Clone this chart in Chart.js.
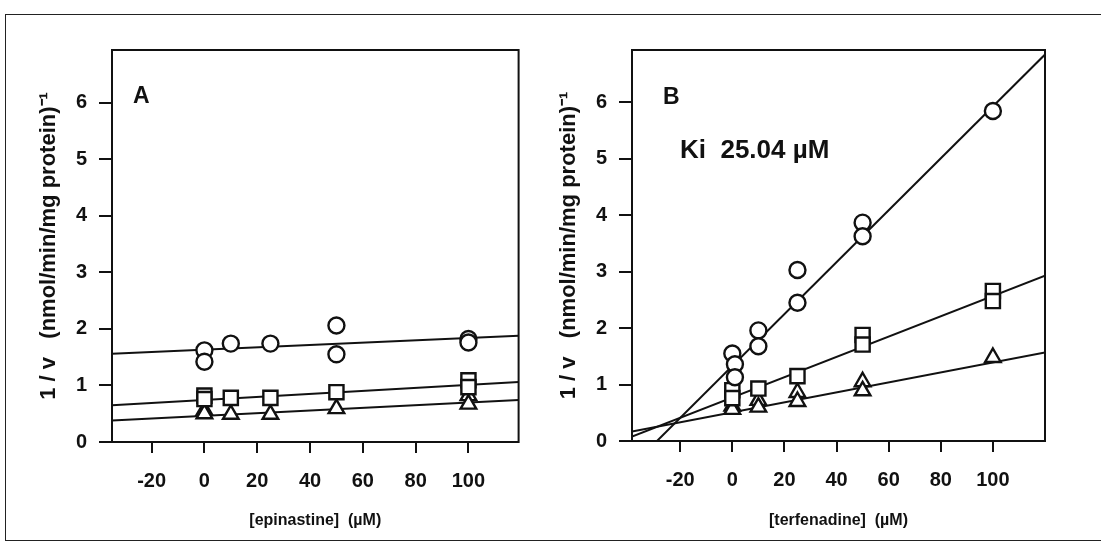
<!DOCTYPE html>
<html>
<head>
<meta charset="utf-8">
<script src="https://cdn.jsdelivr.net/npm/chart.js@4.4.1/dist/chart.umd.min.js"></script>
<style>
  html, body { margin: 0; padding: 0; background: #fff; overflow: hidden; }
  body { width: 1101px; height: 556px; position: relative; font-family: "Liberation Sans", Arial, sans-serif; }
  .frame { position: absolute; left: 5px; top: 14px; width: 1120px; height: 525px; border: 1.5px solid #222; }
  .panel { position: absolute; top: 0; height: 556px; }
  .label { position: absolute; font-weight: bold; color: #111; line-height: 1; white-space: pre; }
</style>
</head>
<body>
<div class="frame"></div>
<div class="panel" style="left:0;width:531px"><canvas id="chartA"></canvas></div>
<div class="panel" style="left:520px;width:581px"><canvas id="chartB"></canvas></div>
<div class="label" style="left:133px;top:84px;font-size:23px">A</div>
<div class="label" style="left:663px;top:85px;font-size:23px">B</div>
<div class="label" style="left:680px;top:136px;font-size:26px">Ki  25.04 µM</div>

<script>
// tick labels
const xTicks = [-20, 0, 20, 40, 60, 80, 100];
const yTicks = [0, 1, 2, 3, 4, 5, 6];

// A: epinastine
const epiCircleX = [0, 0, 10, 25, 50, 50, 100, 100];
const epiCircleY = [1.62, 1.42, 1.74, 1.74, 2.06, 1.55, 1.82, 1.76];
const epiSquareX = [0, 0, 10, 25, 50, 100, 100];
const epiSquareY = [0.82, 0.76, 0.78, 0.78, 0.88, 1.09, 0.97];
const epiTriangleX = [0, 0, 10, 25, 50, 100, 100];
const epiTriangleY = [0.56, 0.50, 0.49, 0.49, 0.59, 0.82, 0.67];
// fitted lines (circle, square, triangle)
const epiIntercepts = [1.633, 0.743, 0.462];
const epiSlopes = [0.00208, 0.00266, 0.00234];

// B: terfenadine
const terCircleX = [0, 1, 1, 10, 10, 25, 25, 50, 50, 100];
const terCircleY = [1.55, 1.36, 1.13, 1.96, 1.68, 3.03, 2.45, 3.87, 3.63, 5.85];
const terSquareX = [0, 0, 10, 25, 50, 50, 100, 100];
const terSquareY = [0.90, 0.76, 0.93, 1.15, 1.88, 1.71, 2.66, 2.48];
const terTriangleX = [0, 0, 10, 10, 25, 25, 50, 50, 100];
const terTriangleY = [0.62, 0.56, 0.72, 0.60, 0.86, 0.70, 1.05, 0.89, 1.48];
const terIntercepts = [1.33, 0.77, 0.51];
const terSlopes = [0.046, 0.018, 0.00883];

const FONT = '"Liberation Sans", Arial, sans-serif';

const pts = (xs, ys) => xs.map((x, i) => ({ x: x, y: ys[i] }));
const fitLine = (b, m, x0, x1) => [{ x: x0, y: b + m * x0 }, { x: x1, y: b + m * x1 }];

const framePlugin = {
    id: 'frame',
    afterDatasetsDraw(chart) {
        const a = chart.chartArea;
        const c = chart.ctx;
        c.save();
        c.strokeStyle = '#111';
        c.lineWidth = 2;
        c.strokeRect(a.left, a.top, a.right - a.left, a.bottom - a.top);
        c.restore();
    }
};

function markerSet(data, style, radius) {
    return {
        type: 'scatter', data: data, order: 0,
        pointStyle: style, pointRadius: radius, pointHoverRadius: radius,
        backgroundColor: '#fff', borderColor: '#111', pointBorderWidth: 2.4
    };
}

function lineSet(data) {
    return {
        type: 'line', data: data, order: 1,
        borderColor: '#111', borderWidth: 2, pointRadius: 0, fill: false, tension: 0
    };
}

function makeChart(id, cfg) {
    const xmin = cfg.xRange[0], xmax = cfg.xRange[1];
    const datasets = [
        markerSet(pts(cfg.circX, cfg.circY), 'circle', 8),
        markerSet(pts(cfg.sqX, cfg.sqY), 'rect', 10),
        markerSet(pts(cfg.triX, cfg.triY), 'triangle', 9)
    ];
    for (let i = 0; i < 3; i++) {
        datasets.push(lineSet(fitLine(cfg.b[i], cfg.m[i], xmin, xmax)));
    }
    return new Chart(document.getElementById(id), {
        data: { datasets: datasets },
        options: {
            responsive: true,
            maintainAspectRatio: false,
            animation: false,
            layout: { padding: { top: 50, right: cfg.padRight, left: 0, bottom: 0 } },
            plugins: { legend: { display: false }, tooltip: { enabled: false } },
            scales: {
                x: {
                    type: 'linear', position: 'bottom', min: xmin, max: xmax,
                    afterBuildTicks: s => { s.ticks = xTicks.map(v => ({ value: v })); },
                    afterFit: s => { s.height = 556 - cfg.bottom; },
                    border: { display: false },
                    grid: { drawOnChartArea: false, drawTicks: true, tickLength: 11, color: '#111', lineWidth: 2 },
                    ticks: { color: '#111', padding: 16, font: { family: FONT, size: 20, weight: 'bold' } },
                    title: {
                        display: true, text: cfg.xTitle, color: '#111',
                        padding: { top: 0, bottom: 26 },
                        font: { family: FONT, size: 16, weight: 'bold' }
                    }
                },
                y: {
                    type: 'linear', position: 'left', min: 0, max: 6.93,
                    afterBuildTicks: s => { s.ticks = yTicks.map(v => ({ value: v })); },
                    afterFit: s => { s.width = 112; },
                    border: { display: false },
                    grid: { drawOnChartArea: false, drawTicks: true, tickLength: 13, color: '#111', lineWidth: 2 },
                    ticks: { color: '#111', padding: 12, font: { family: FONT, size: 20, weight: 'bold' } },
                    title: {
                        display: true, text: '1 / v   (nmol/min/mg protein)⁻¹', color: '#111',
                        padding: { top: 36, bottom: 0 },
                        font: { family: FONT, size: 22, weight: 'bold' }
                    }
                }
            }
        },
        plugins: [framePlugin]
    });
}

makeChart('chartA', {
    xRange: [-35, 119], padRight: 2, bottom: 442, xTitle: '[epinastine]  (µM)',
    circX: epiCircleX, circY: epiCircleY, sqX: epiSquareX, sqY: epiSquareY,
    triX: epiTriangleX, triY: epiTriangleY, b: epiIntercepts, m: epiSlopes
});

makeChart('chartB', {
    xRange: [-38.5, 120], padRight: 56, bottom: 441, xTitle: '[terfenadine]  (µM)',
    circX: terCircleX, circY: terCircleY, sqX: terSquareX, sqY: terSquareY,
    triX: terTriangleX, triY: terTriangleY, b: terIntercepts, m: terSlopes
});
</script>
</body>
</html>
